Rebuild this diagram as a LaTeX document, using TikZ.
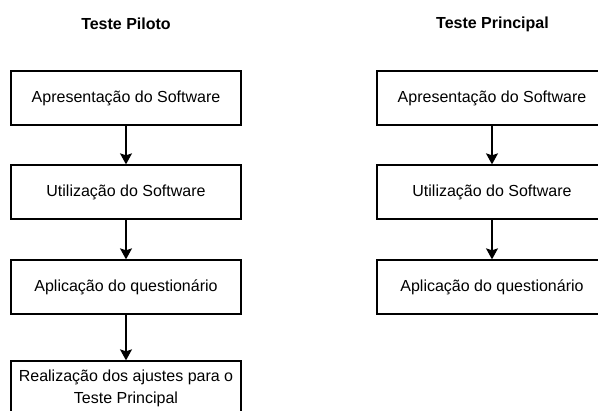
\documentclass[tikz,border=0pt]{standalone}
\usepackage{fontspec}
\setmainfont{Liberation Sans}
\usetikzlibrary{arrows.meta}
\begin{document}
\begin{tikzpicture}[x=1pt,y=-1pt,
  box/.style={draw, line width=1.3pt, minimum width=230pt, minimum height=54pt, inner sep=0pt, align=center, font=\fontsize{16}{22}\selectfont},
  ttl/.style={font=\fontsize{16}{19}\selectfont\bfseries},
  conn/.style={draw, line width=1.4pt, -{Stealth[length=11pt,width=12pt,inset=2pt]}}]
\useasboundingbox (0,0) rectangle (598,411);
\node[ttl] (t1) at (126,24) {Teste Piloto};
\node[ttl] (t2) at (492.5,24) {Teste Principal};
\node[box] (a1) at (126,98) {Apresentação do Software};
\node[box] (a2) at (126,192) {Utilização do Software};
\node[box] (a3) at (126,287) {Aplicação do questionário};
\node[box] (a4) at (126,388) {Realização dos ajustes para o\\Teste Principal};
\node[box] (b1) at (492,98) {Apresentação do Software};
\node[box] (b2) at (492,192) {Utilização do Software};
\node[box] (b3) at (492,287) {Aplicação do questionário};
\draw[conn] (a1) -- (a2);
\draw[conn] (a2) -- (a3);
\draw[conn] (a3) -- (a4);
\draw[conn] (b1) -- (b2);
\draw[conn] (b2) -- (b3);
\end{tikzpicture}
\end{document}
